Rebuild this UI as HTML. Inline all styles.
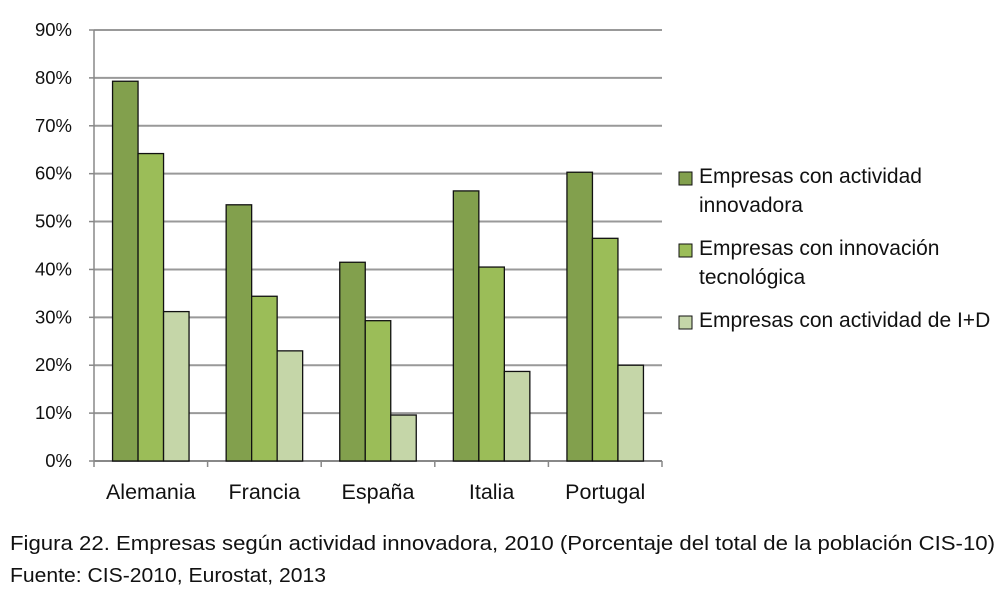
<!DOCTYPE html>
<html><head><meta charset="utf-8"><style>
body{margin:0;background:#fff;width:1001px;height:591px;overflow:hidden;font-family:"Liberation Sans",sans-serif}
svg text{font-family:"Liberation Sans",sans-serif;fill:#111}
</style></head><body>
<svg id="chart" width="1001" height="591"></svg>
<script>
const categories=["Alemania","Francia","España","Italia","Portugal"];
const seriesNames=["Empresas con actividad innovadora","Empresas con innovación tecnológica","Empresas con actividad de I+D"];
const innovadora=[79.3,53.5,41.5,56.4,60.3];
const tecnologica=[64.2,34.4,29.3,40.5,46.5];
const imasd=[31.2,23.0,9.6,18.7,20.0];
const yTicks=[0,10,20,30,40,50,60,70,80,90];
const colors=["#82a04d","#9bbd58","#c5d6a8"];
const svg=document.getElementById('chart');
const NS="http://www.w3.org/2000/svg";
const x0=94,x1=662,y0=461,y90=30;
const y=v=>y0-(v/90)*(y0-y90);
const cw=(x1-x0)/categories.length;
function mk(t,a){const e=document.createElementNS(NS,t);for(const k in a)e.setAttribute(k,a[k]);svg.appendChild(e);return e;}
yTicks.forEach(t=>{
  const l=mk('line',{x1:x0,x2:x1,y1:y(t),y2:y(t),stroke:t===0?'#888':'#999','stroke-width':2});
  
  
  const tx=mk('text',{x:72,y:y(t)+6,'text-anchor':'end','font-size':18.5});
  tx.textContent=t+'%';
  
  
  mk('line',{x1:x0-5,x2:x0,y1:y(t),y2:y(t),stroke:'#888','stroke-width':1.5});
});
mk('line',{x1:x0,x2:x0,y1:y90,y2:y0,stroke:'#888','stroke-width':1.5});
for(let i=0;i<=categories.length;i++)mk('line',{x1:x0+i*cw,x2:x0+i*cw,y1:y0,y2:y0+6,stroke:'#888','stroke-width':1.5});
const series=[innovadora,tecnologica,imasd];
const bw=25.5;
categories.forEach((c,i)=>{
  const cx=x0+i*cw+cw/2;
  series.forEach((s,j)=>{
    const bx=cx-1.5*bw+j*bw;
    const r=mk('rect',{x:bx,y:y(s[i]),width:bw,height:y0-y(s[i]),fill:colors[j],stroke:'#111','stroke-width':1.3});
    
    
  });
  const t=mk('text',{x:cx,y:499,'text-anchor':'middle','font-size':21.5});
  t.textContent=c;
  
  
});
const legend=[[180,["Empresas con actividad","innovadora"]],[252,["Empresas con innovación","tecnológica"]],[324,["Empresas con actividad de I+D"]]];
legend.forEach((L,j)=>{
  const r=mk('rect',{x:679,y:L[0]-8,width:13,height:13,fill:colors[j],stroke:'#111','stroke-width':1});
  
  
  L[1].forEach((line,k)=>{
    const t=mk('text',{x:699,y:L[0]+k*29+3,'font-size':21});
    t.textContent=line;
    
    
  });
});
const c1=mk('text',{x:10,y:550,'font-size':20,textLength:985,lengthAdjust:'spacingAndGlyphs'});
c1.textContent="Figura 22. Empresas según actividad innovadora, 2010 (Porcentaje del total de la población CIS-10)";


const c2=mk('text',{x:10,y:582,'font-size':20,textLength:316,lengthAdjust:'spacingAndGlyphs'});
c2.textContent="Fuente: CIS-2010, Eurostat, 2013";


</script>
</body></html>
